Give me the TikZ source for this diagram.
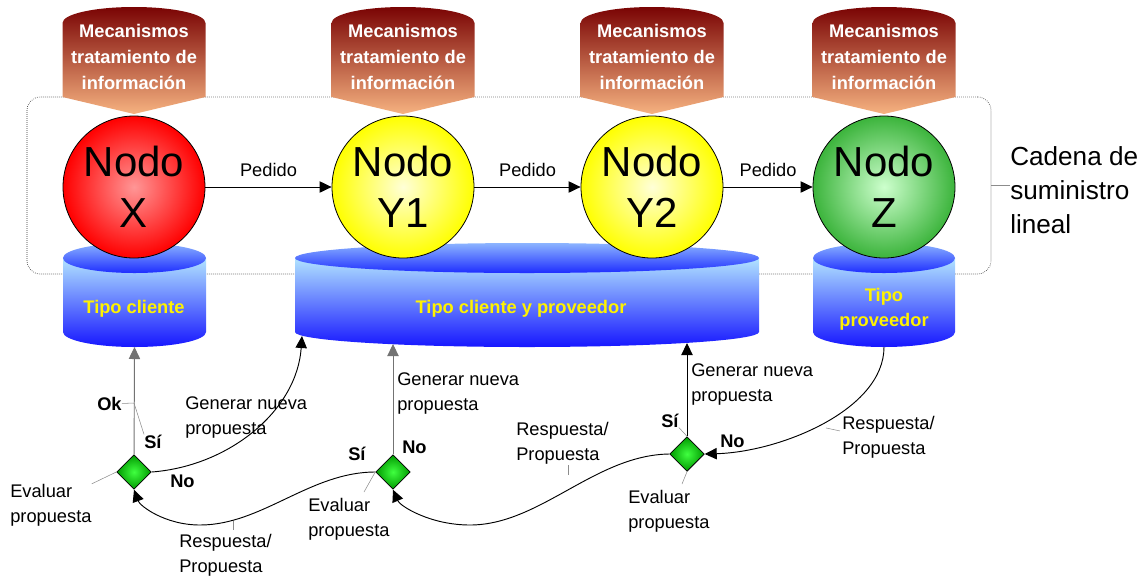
\documentclass[tikz,border=0pt]{standalone}
\usepackage{fontspec}
\setmainfont{Liberation Sans}
\usetikzlibrary{arrows.meta,shapes.geometric}

\definecolor{rojizo}{RGB}{122,4,4}
\definecolor{salmon}{RGB}{246,178,128}
\definecolor{celeste}{RGB}{178,228,255}
\definecolor{azul}{RGB}{22,22,255}
\definecolor{tapaclara}{RGB}{140,180,255}
\definecolor{tapaoscura}{RGB}{30,45,255}
\definecolor{rosa}{RGB}{255,150,150}
\definecolor{crema}{RGB}{255,255,215}
\definecolor{verde}{RGB}{60,180,60}
\definecolor{verdeclaro}{RGB}{205,255,205}

\tikzstyle{caja} = [draw=black!80, densely dotted, line width=0.5pt, rounded corners=10pt, minimum width=723pt, minimum height=132.75pt, inner sep=0pt]
\tikzstyle{nodo} = [circle, draw=black, line width=0.6pt, minimum size=106.5pt, inner sep=0pt, align=center, font=\fontsize{31.5}{38.25}\selectfont]
\tikzstyle{evalua} = [diamond, draw=black, line width=0.6pt, minimum size=26pt, inner sep=0pt, inner color=green!75!white, outer color=green!60!black]
\tikzstyle{mecan} = [font=\fontsize{13.7}{19.5}\selectfont\bfseries, text=white, align=center, inner sep=0pt]
\tikzstyle{tipo} = [font=\fontsize{13.7}{19}\selectfont\bfseries, text=yellow, align=center, inner sep=0pt]
\tikzstyle{texto} = [font=\fontsize{13.7}{18.5}\selectfont, align=left, inner sep=0pt]
\tikzstyle{resalto} = [font=\fontsize{13.7}{18.5}\selectfont\bfseries, inner sep=0pt]
\tikzstyle{flecha} = [-{Triangle[length=9pt,width=8.5pt]}, line width=0.7pt]
\tikzstyle{gris} = [draw=black!55]
\tikzstyle{guia} = [draw=black!45, line width=0.4pt]

% banner over each node: #1 centre x, #2 name of its text
\newcommand{\mecanismo}[2]{%
  \shade[top color=rojizo, bottom color=salmon]
    (#1-71.5,97) -- (#1-71.5,23) .. controls (#1-71.5,14) and (#1-39.5,7) .. (#1,7)
    .. controls (#1+39.5,7) and (#1+71.5,14) .. (#1+71.5,23) -- (#1+71.5,97) -- (#1,114) -- cycle;
  \node[mecan] (#2) at (#1,57) {Mecanismos\\tratamiento de\\información};
}

% cylinder: #1 left x, #2 right x, #3 name of its lowest point
\newcommand{\cilindro}[3]{%
  \pgfmathsetmacro\cilc{(#1+#2)/2}
  \pgfmathsetmacro\cilr{(#2-#1)/2}
  \shade[top color=celeste, bottom color=azul]
    (#1,258) -- (#1,332) .. controls (#1,340.3) and (\cilc-0.552*\cilr,347) .. (\cilc,347)
    .. controls (\cilc+0.552*\cilr,347) and (#2,340.3) .. (#2,332) -- (#2,258) -- cycle;
  \shade[top color=tapaclara, bottom color=tapaoscura]
    (\cilc,258) ellipse [x radius=0.75pt*\cilr, y radius=11.25pt];
  \coordinate (#3) at (\cilc,347);
}

\begin{document}
\begin{tikzpicture}[x=0.75pt, y=-0.75pt]
  \useasboundingbox (0,0) rectangle (1146,576);

  \node[caja] (cadena) at (509,185.5) {};

  \mecanismo{134}{mx}
  \mecanismo{403}{my1}
  \mecanismo{652}{my2}
  \mecanismo{884}{mz}

  \cilindro{63}{206}{cli}
  \cilindro{295}{759}{clipro}
  \cilindro{813}{955}{pro}
  \node[tipo, anchor=base] (tcli) at (134,313) {Tipo cliente};
  \node[tipo, anchor=base] (tclipro) at (521,313) {Tipo cliente y proveedor};
  \node[tipo] (tpro) at (884,309) {Tipo\\proveedor};

  \node[nodo, inner color=rosa, outer color=red] (X) at (134,187) {Nodo\\X};
  \node[nodo, inner color=crema, outer color=yellow] (Y1) at (403,187) {Nodo\\Y1};
  \node[nodo, inner color=crema, outer color=yellow] (Y2) at (652,187) {Nodo\\Y2};
  \node[nodo, inner color=verdeclaro, outer color=verde] (Z) at (884,187) {Nodo\\Z};

  \draw[flecha] (X) -- (Y1) node[texto, midway, above=7.5pt] (ped1) {Pedido};
  \draw[flecha] (Y1) -- (Y2) node[texto, midway, above=7.5pt] (ped2) {Pedido};
  \draw[flecha] (Y2) -- (Z) node[texto, midway, above=7.5pt] (ped3) {Pedido};

  \node[font=\fontsize{19.6}{25.5}\selectfont, align=left, inner sep=0pt, anchor=base west] (lineal) at (1010,233) {Cadena de\\suministro\\lineal};
  \draw[guia] (cadena.east) -- (cadena.east -| lineal.west);

  \node[evalua] (d1) at (134,472) {};
  \node[evalua] (d2) at (393,472) {};
  \node[evalua] (d3) at (687,454) {};

  \coordinate (ccpa) at (302,336);
  \coordinate (ccpb) at (393,344);
  \coordinate (ccpc) at (687,343);
  \coordinate (valle1) at (200,525);
  \coordinate (valle2) at (470,525);

  \draw[flecha, gris] (d1) -- (cli);
  \draw[flecha] (d1.east) .. controls (230,466) and (297,410) .. (ccpa);
  \draw[flecha, gris] (d2) -- (ccpb);
  \draw[flecha] (d2.west) .. controls (310,472) and (262,525) .. (valle1)
    .. controls (165,525) and (140,506) .. (d1.south);
  \draw[flecha] (d3) -- (ccpc);
  \draw[flecha] (d3.west) .. controls (595,455) and (540,525) .. (valle2)
    .. controls (430,525) and (400,506) .. (d2.south);
  \draw[flecha] (pro) .. controls (884,410) and (780,452) .. (d3.east);

  \node[resalto, anchor=base west] (ok) at (97,410) {Ok};
  \node[resalto, anchor=base west] (si1) at (144,448) {Sí};
  \node[resalto, anchor=base west] (no1) at (170,487) {No};
  \node[texto, anchor=base west] (gen1) at (185,434) {Generar nueva\\propuesta};
  \node[texto, anchor=base west] (ev1) at (10,522) {Evaluar\\propuesta};
  \node[texto, anchor=base west] (resp1) at (179,572) {Respuesta/\\Propuesta};

  \node[resalto, anchor=base west] (si2) at (348,460) {Sí};
  \node[resalto, anchor=base west] (no2) at (402,453) {No};
  \node[texto, anchor=base west] (gen2) at (397,410) {Generar nueva\\propuesta};
  \node[texto, anchor=base west] (ev2) at (308,536) {Evaluar\\propuesta};
  \node[texto, anchor=base west] (resp2) at (516,460) {Respuesta/\\Propuesta};

  \node[resalto, anchor=base west] (si3) at (661,427) {Sí};
  \node[resalto, anchor=base west] (no3) at (720,447) {No};
  \node[texto, anchor=base west] (gen3) at (691,401) {Generar nueva\\propuesta};
  \node[texto, anchor=base west] (ev3) at (628,528) {Evaluar\\propuesta};
  \node[texto, anchor=base west] (resp3) at (842,454) {Respuesta/\\Propuesta};

  \coordinate (okpt) at (134,403);
  \coordinate (ev2pt) at (364,492);
  \coordinate (ev3pt) at (682,484);
  \draw[guia] (ok.east) -- (okpt) -- (si1.north west);
  \draw[guia] (ev1.north east) -- (d1.west);
  \draw[guia] (ev2pt) -- (d2.west);
  \draw[guia] (ev3pt) -- (d3.south);
  \draw[guia] (si3.south east) -- (d3.north);
  \draw[guia] (resp1.north) ++(8,-4) -- ++(0,-9);
  \draw[guia] (resp2.south) ++(6,1) -- ++(0,10);
  \draw[guia] (resp3.west) ++(-2,-6) -- ++(-14,-3);
\end{tikzpicture}
\end{document}
